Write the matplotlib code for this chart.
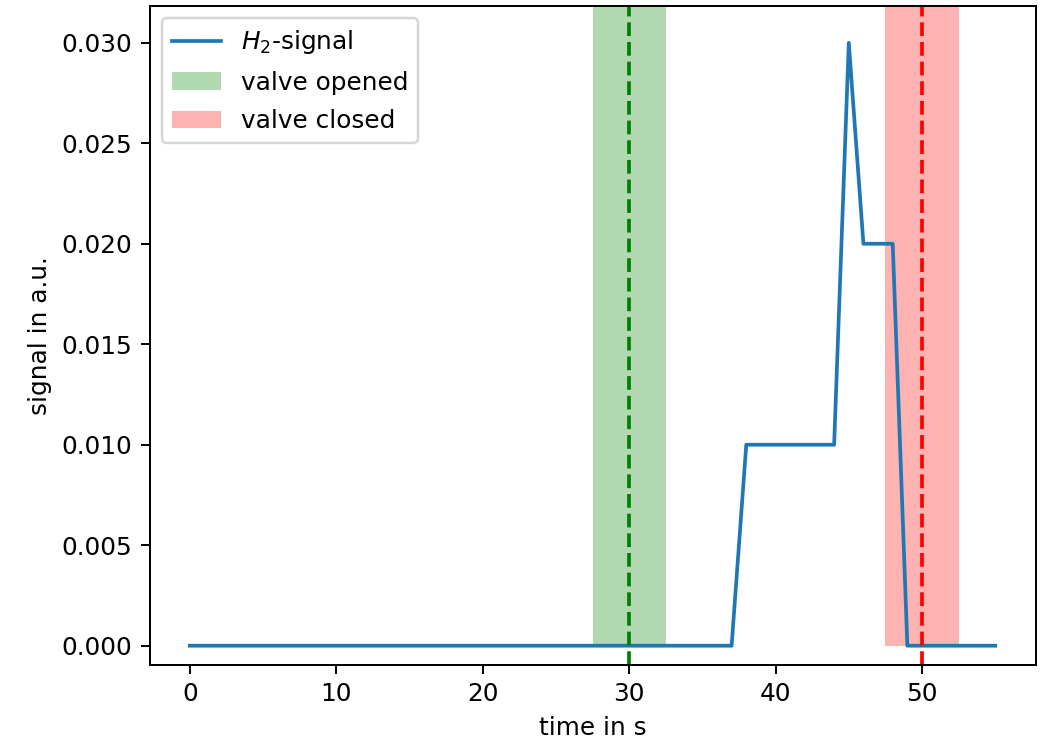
import numpy as np
import matplotlib
matplotlib.use("Agg")
import matplotlib.pyplot as plt

# H2 signal sampled once per second
time_s = list(range(0, 56))
signal = [0.0] * 38 + [0.01] * 7 + [0.03, 0.02, 0.02, 0.02] + [0.0] * 7

valve_open_t = 30
valve_close_t = 50
span_half_width = 2.5

DPI = 178
fig = plt.figure(figsize=(1040 / DPI, 740 / DPI), dpi=DPI)
ax = fig.add_axes([149.5 / 1040, (740 - 665) / 740, 886 / 1040, 659 / 740])

ax.plot(time_s, signal, color="tab:blue", label=r"$H_2$-signal")

ylo, yhi = -0.00096, 0.03183
ax.fill_between([valve_open_t - span_half_width, valve_open_t + span_half_width],
                0, yhi, color="green", alpha=0.3, linewidth=0, label="valve opened")
ax.fill_between([valve_close_t - span_half_width, valve_close_t + span_half_width],
                0, yhi, color="red", alpha=0.3, linewidth=0, label="valve closed")
ax.axvline(valve_open_t, color="green", linestyle="--")
ax.axvline(valve_close_t, color="red", linestyle="--")

ax.set_xlim(-2.75, 57.75)
ax.set_ylim(ylo, yhi)
ax.set_yticks([0.0, 0.005, 0.010, 0.015, 0.020, 0.025, 0.030])
ax.yaxis.set_major_formatter(matplotlib.ticker.FormatStrFormatter("%.3f"))
ax.set_xlabel("time in s")
ax.set_ylabel("signal in a.u.")
ax.legend(loc="upper left", labelspacing=0.58)

fig.savefig("out.png", dpi=DPI)
